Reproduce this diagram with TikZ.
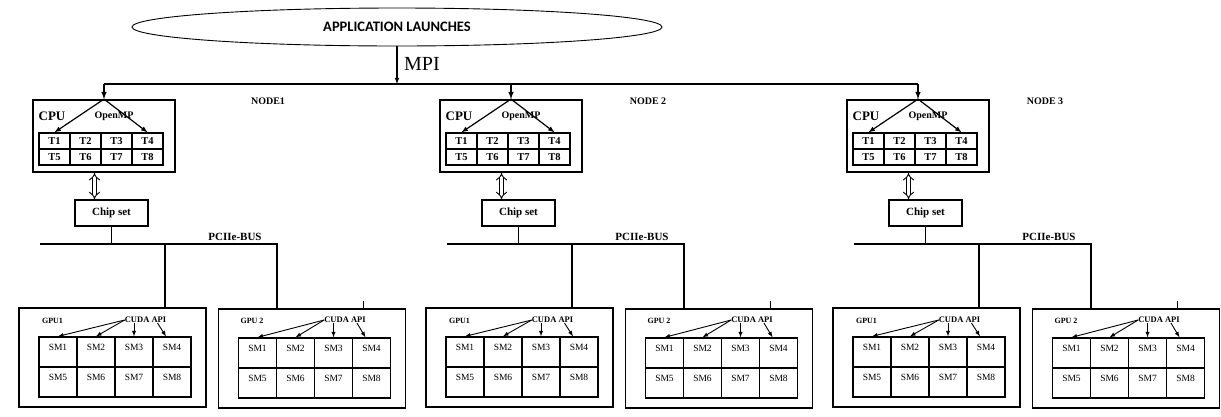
\documentclass[tikz,border=0pt]{standalone}
\usepackage{fontspec}
\setmainfont{Liberation Serif}
\newfontfamily\appfont{Carlito}
\usetikzlibrary{shapes.geometric,arrows.meta}

\tikzset{
  nodebox/.style={draw=gray!70, double=white, double distance=1.6pt, line width=0.6pt},
  cpubox/.style={draw, line width=1.8pt, minimum width=142pt, minimum height=72pt, inner sep=0pt},
  tcell/.style={draw, line width=1.3pt, minimum width=31pt, minimum height=16pt, inner sep=0pt,
    font=\bfseries\fontsize{10.5}{10.5}\selectfont},
  chipbox/.style={draw, line width=1.5pt, minimum width=73pt, minimum height=26pt,
    font=\bfseries\fontsize{11}{11}\selectfont},
  gpubox/.style={draw, line width=1.8pt, minimum width=187pt, minimum height=99pt, inner sep=0pt},
  smcell/.style={draw, line width=1.3pt, minimum width=38pt, minimum height=30pt, inner sep=3pt,
    text height=8pt, text depth=12pt, font=\fontsize{9.5}{9.5}\selectfont},
  bus/.style={line width=1.5pt},
  lbl/.style={font=\bfseries\fontsize{#1}{#1}\selectfont, inner sep=0pt}
}

\begin{document}
\begin{tikzpicture}[x=1pt, y=-1pt, >=latex]
\useasboundingbox (0,0) rectangle (1221,416);

\node[ellipse, draw, line width=0.9pt, minimum width=530pt, minimum height=38pt,
  font=\appfont\bfseries\fontsize{14.5}{14.5}\selectfont] (app) at (397,27) {APPLICATION LAUNCHES};

\foreach \k/\dx/\bl/\br/\lx/\nm in {1/0/8/412/268/NODE1, 2/407/417/818/648/NODE 2, 3/814/823/1218/1045/NODE 3} {
  \draw[nodebox] (\bl,88) rectangle (\br,413);
  \node[lbl=10] (name\k) at (\lx,101) {\nm};

  % CPU with the threads
  \node[cpubox] (cpu\k) at (104+\dx,136) {};
  \node[lbl=13] (cpul\k) at (52+\dx,116) {CPU};
  \node[lbl=10] (omp\k) at (114+\dx,116) {OpenMP};
  \foreach \i in {1,...,8} {
    \pgfmathtruncatemacro\colno{mod(\i-1,4)}
    \pgfmathtruncatemacro\rowno{(\i-1)/4}
    \node[tcell] (t\k-\i) at (54.5+31*\colno+\dx,141+16*\rowno) {T\i};
  }
  \draw[->, line width=1.2pt] (cpu\k.north) -- (t\k-1.north);
  \draw[->, line width=1.2pt] (cpu\k.north) -- (t\k-4.north);

  % chip set
  \node[chipbox] (chip\k) at (111.5+\dx,213) {Chip set};
  \coordinate (dbl\k) at ([xshift=-17pt]chip\k.north);
  \draw[{Implies}-{Implies}, double, double distance=3pt, line width=0.9pt]
    (dbl\k |- cpu\k.south) -- (dbl\k);

  % GPUs
  \foreach \g/\gx/\gy/\gl in {1/112.5/357.5/GPU1, 2/312/358.5/GPU 2} {
    \node[gpubox] (gpu\k\g) at (\gx+\dx,\gy) {};
    \node[lbl=8] (gl\k\g) at (\gx-60+\dx,321) {\gl};
    \node[lbl=8.5] (cuda\k\g) at (\gx+33+\dx,320) {CUDA API};
    \foreach \i in {1,...,8} {
      \pgfmathtruncatemacro\colno{mod(\i-1,4)}
      \pgfmathtruncatemacro\rowno{(\i-1)/4}
      \node[smcell] (sm\k\g-\i) at (\gx-54.5+38*\colno+\dx,\gy-5.5+30*\rowno) {SM\i};
    }
    \draw[->, line width=0.9pt] (cuda\k\g.west) -- (sm\k\g-1.north);
    \draw[->, line width=0.9pt] (cuda\k\g.west) -- (sm\k\g-2.north);
    \draw[->, line width=0.9pt] (cuda\k\g.south -| sm\k\g-3.north) -- (sm\k\g-3.north);
    \draw[->, line width=0.9pt] ([xshift=12pt]cuda\k\g.south) -- ([xshift=-6pt]sm\k\g-4.north);
  }
  \draw[line width=1pt] ([xshift=-43pt]gpu\k2.north east) -- ++(0,-7);

  % PCIe bus
  \coordinate (pl\k) at (40+\dx,244);
  \coordinate (pa\k) at (165+\dx,244);
  \coordinate (pb\k) at (277+\dx,244);
  \draw[bus] (chip\k.south) -- (chip\k.south |- pl\k);
  \draw[bus] (pl\k) -- (pb\k) -- (pb\k |- gpu\k2.north);
  \draw[bus] (pa\k) -- (pa\k |- gpu\k1.north);
  \node[lbl=11] (pci\k) at (235+\dx,237) {PCIIe-BUS};
}

% MPI
\coordinate (busy) at (0,84);
\draw[line width=2.2pt] (cpu1.north |- busy) -- (cpu3.north |- busy);
\foreach \k in {1,2,3}
  \draw[->, line width=1.5pt] (cpu\k.north |- busy) -- (cpu\k.north);
\draw[->, line width=1.1pt] (app.south) -- (app.south |- busy);
\node[font=\fontsize{20}{20}\selectfont, anchor=west, inner sep=0pt] (mpi) at (404,64) {MPI};

\end{tikzpicture}
\end{document}
